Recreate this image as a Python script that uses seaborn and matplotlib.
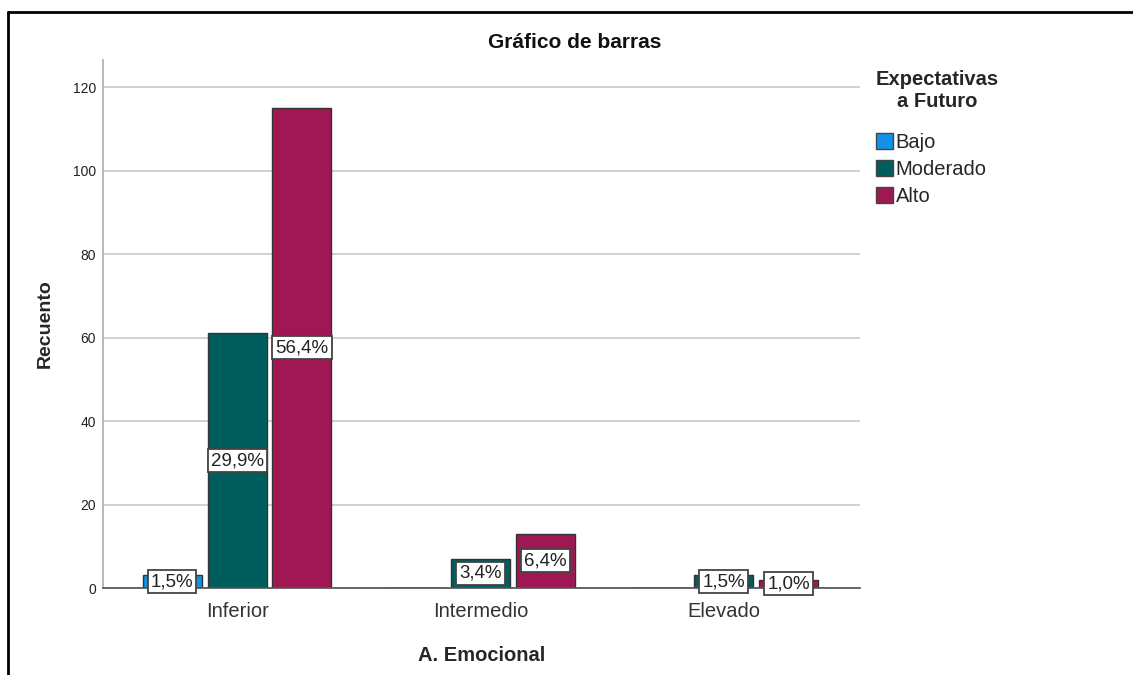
import numpy as np
import pandas as pd
import matplotlib
matplotlib.use('Agg')
import matplotlib.pyplot as plt
import seaborn as sns
from matplotlib.lines import Line2D

# ── datos ────────────────────────────────────────────────────────────────────
categorias = ['Inferior', 'Intermedio', 'Elevado']
niveles = ['Bajo', 'Moderado', 'Alto']
bajo = [3, 0, 0]
moderado = [61, 7, 3]
alto = [115, 13, 2]
yticks = [0, 20, 40, 60, 80, 100, 120]

AZUL = '#1192E8'; VERDE = '#005D5D'; MAGENTA = '#9F1853'
paleta = [AZUL, VERDE, MAGENTA]

df = pd.DataFrame({
    'A. Emocional': categorias * 3,
    'Expectativas': np.repeat(niveles, 3),
    'Recuento': bajo + moderado + alto,
})
total = df['Recuento'].sum()

sns.set_theme(style='white')
plt.rcParams['font.family'] = ['Liberation Sans', 'DejaVu Sans']

fig = plt.figure(figsize=(11.33, 6.75), dpi=100)
ax = fig.add_axes([103/1133, 1-588/675, (860-103)/1133, (588-60)/675])

sns.barplot(data=df, x='A. Emocional', y='Recuento', hue='Expectativas',
            order=categorias, hue_order=niveles, palette=paleta,
            width=0.8, gap=0.09, edgecolor='#333333', linewidth=1.0,
            saturation=1, ax=ax, legend=True)

ax.set_xlim(-0.551, 2.56)
ax.set_ylim(0, 126.5)
ax.set_yticks(yticks)
ax.yaxis.grid(True, color='#C8C8C8', linewidth=1.2)
ax.set_axisbelow(True)
for s in ['top', 'right']:
    ax.spines[s].set_visible(False)
ax.spines['left'].set_color('#B0B0B0')
ax.spines['bottom'].set_color('#555555')
ax.tick_params(axis='y', labelsize=10, colors='#222222', length=0, pad=5)
ax.tick_params(axis='x', labelsize=14.5, colors='#333333', length=0, pad=10)
ax.set_xlabel('A. Emocional', fontsize=14.5, fontweight='bold', labelpad=18)
ax.set_ylabel('Recuento', fontsize=14, fontweight='bold', labelpad=14)

# etiquetas de porcentaje en el centro de cada barra
for cont in ax.containers:
    for rect in cont:
        h = rect.get_height()
        if h <= 0:
            continue
        pct = f'{100*h/total:.1f}%'.replace('.', ',')
        ax.text(rect.get_x() + rect.get_width()/2, h/2, pct,
                ha='center', va='center', fontsize=13.5, color='#222222',
                bbox=dict(boxstyle='square,pad=0.16', facecolor='white',
                          edgecolor='#444444', linewidth=1.3))

leg = ax.legend(title='Expectativas\na Futuro', loc='upper left',
                bbox_to_anchor=(868/1133, 1-62/675), bbox_transform=fig.transFigure,
                frameon=False, fontsize=14.5, title_fontsize=14.5,
                handlelength=0.85, handleheight=0.85, handletextpad=0.12,
                labelspacing=0.38, alignment='left', borderaxespad=0)
leg.get_title().set_fontweight('bold')
leg.get_title().set_multialignment('center')
leg._legend_box.sep = 16
for h in leg.legend_handles:
    h.set_edgecolor('#444444')

fig.text(575/1133, 1-43/675, 'Gráfico de barras', ha='center', va='center',
         fontsize=15, fontweight='bold', color='#111111')

# marco exterior
fig.add_artist(Line2D([8/1133, 8/1133], [0, 1-12/675], transform=fig.transFigure,
                      color='black', linewidth=2))
fig.add_artist(Line2D([8/1133, 1], [1-12/675, 1-12/675], transform=fig.transFigure,
                      color='black', linewidth=2))

fig.savefig('out.png', dpi=100, facecolor='white')
